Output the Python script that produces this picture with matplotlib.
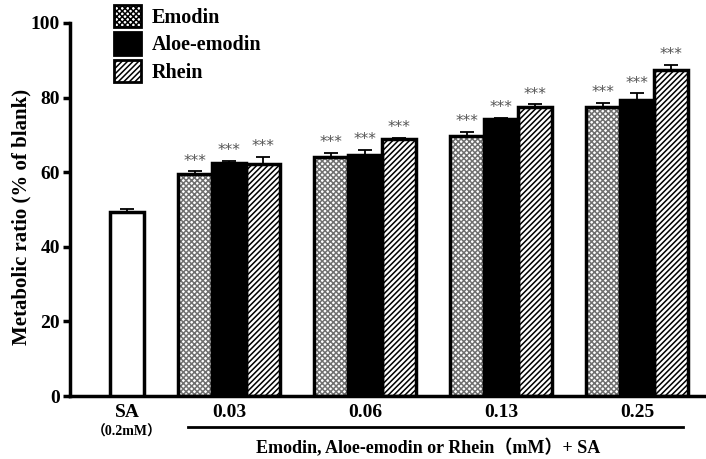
import matplotlib
matplotlib.use("Agg")
import matplotlib.pyplot as plt
import numpy as np

plt.rcParams['font.family'] = ['Liberation Serif', 'Noto Sans CJK SC']
plt.rcParams['font.weight'] = 'bold'
plt.rcParams['axes.labelweight'] = 'bold'
plt.rcParams['hatch.linewidth'] = 1.1

# metabolic ratio (% of blank), mean and upper SD
sa_value = 49.3
sa_err = 0.9
doses = ['0.03', '0.06', '0.13', '0.25']
compounds = ['Emodin', 'Aloe-emodin', 'Rhein']
emodin = [59.6, 64.0, 69.6, 77.6]
emodin_err = [0.6, 1.1, 1.3, 1.0]
aloe = [62.6, 64.6, 74.2, 79.3]
aloe_err = [0.5, 1.3, 0.4, 1.8]
rhein = [62.1, 68.9, 77.6, 87.5]
rhein_err = [2.1, 0.3, 0.6, 1.3]
stars = '***'

fig = plt.figure(figsize=(7.06, 4.59), dpi=100)
ax = fig.add_axes([0.099, 0.137, 0.901, 0.813])

centers = np.array([3, 7, 11, 15])
w = 1.0
err_kw = dict(ecolor='black', elinewidth=1.3, capsize=5, capthick=1.3)

# SA alone
ax.bar(0, sa_value, w, color='white', edgecolor='black', linewidth=2.5,
       yerr=[[0], [sa_err]], error_kw=err_kw, zorder=3)

styles = [
    dict(face='white', hatch='xxxxxx', hcol='#707070'),
    dict(face='black', hatch=None, hcol='black'),
    dict(face='white', hatch='//////', hcol='black'),
]
series = [(emodin, emodin_err), (aloe, aloe_err), (rhein, rhein_err)]

handles = []
for i, ((vals, errs), st, name) in enumerate(zip(series, styles, compounds)):
    x = centers + (i - 1) * w
    # pattern fill, then black outline on top
    ax.bar(x, vals, w, color=st['face'], edgecolor=st['hcol'], hatch=st['hatch'],
           linewidth=0, zorder=2)
    ax.bar(x, vals, w, fill=False, edgecolor='black', linewidth=2.5,
           yerr=[np.zeros(len(vals)), errs], error_kw=err_kw, zorder=3)
    for xi, v, e in zip(x, vals, errs):
        ax.annotate(stars, (xi, v + e), xytext=(0, 2), textcoords='offset points',
                    ha='center', va='bottom', fontsize=11, color='#555555',
                    family='DejaVu Sans', fontweight='normal')
    h = plt.Rectangle((0, 0), 1, 1, facecolor=st['face'], edgecolor=st['hcol'],
                      hatch=st['hatch'], linewidth=0)
    handles.append(h)

# legend
leg = ax.legend(handles, compounds, loc='upper left', bbox_to_anchor=(0.056, 1.07),
                frameon=False, fontsize=14.5, handlelength=1.35, handleheight=1.35,
                handletextpad=0.55, labelspacing=0.22, borderaxespad=0)
for p in leg.get_patches():
    p.set_edgecolor('black')
    p.set_linewidth(2)

ax.set_xlim(-1.68, 17.03)
ax.set_ylim(0, 100)
ax.set_yticks([0, 20, 40, 60, 80, 100])
ax.set_xticks([0] + list(centers))
ax.set_xticklabels(['SA'] + doses)
ax.set_ylabel('Metabolic ratio (% of blank)', fontsize=15)
ax.yaxis.set_label_coords(-0.06, 0.48)

for s in ['top', 'right']:
    ax.spines[s].set_visible(False)
for s in ['left', 'bottom']:
    ax.spines[s].set_linewidth(2.5)
ax.tick_params(axis='y', length=5, width=2.5, labelsize=14, pad=2)
ax.tick_params(axis='x', length=0, labelsize=14, pad=6)

# SA concentration under its tick label
ax.annotate('（0.2mM）', (0, 0), xytext=(0, -26), textcoords='offset points',
            ha='center', va='center', fontsize=10, annotation_clip=False)

# bracket line under the dose labels
ax.plot([1.8, 16.35], [-0.083, -0.083], color='black', lw=2,
        transform=ax.get_xaxis_transform(), clip_on=False)
ax.text(8.85, -0.14, 'Emodin, Aloe-emodin or Rhein（mM）+ SA', ha='center', va='center',
        fontsize=13, transform=ax.get_xaxis_transform())

fig.savefig('out.png', dpi=100)
